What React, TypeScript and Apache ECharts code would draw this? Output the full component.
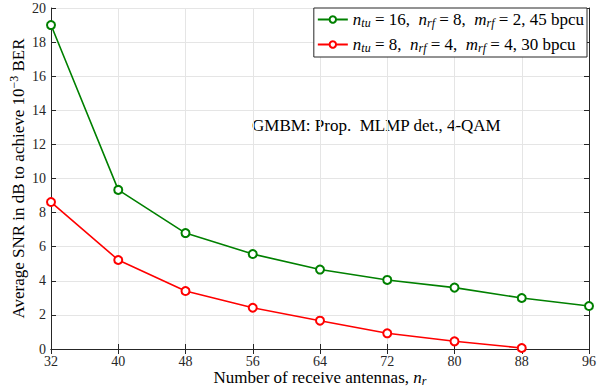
import React, { useEffect, useRef } from "react";
import * as echarts from "echarts";

const xCategories = [32, 40, 48, 56, 64, 72, 80, 88, 96];
const green16 = [19.0, 9.33, 6.8, 5.57, 4.66, 4.05, 3.6, 2.99, 2.52];
const red8 = [8.62, 5.22, 3.4, 2.42, 1.66, 0.92, 0.45, 0.06];
const seriesNames = ["s16", "s8"];
const FONT = "serif";
const AX = "#262626";

export default function App() {
  const ref = useRef<HTMLDivElement>(null);
  useEffect(() => {
    const chart = echarts.init(ref.current!, null, { renderer: "svg" });
    const sub = { fontSize: 12, fontStyle: "italic", fontFamily: FONT, color: "#000", padding: [7, 0, 0, 0] };
    const it = { fontSize: 17, fontStyle: "italic", fontFamily: FONT, color: "#000" };
    const nm = { fontSize: 17, fontFamily: FONT, color: "#000" };
    const legendText: Record<string, string> = {
      s16: "{i|n}{s|tu}{t| = 16,  }{i|n}{s|rf}{t| = 8,  }{i|m}{s|rf}{t| = 2, 45 bpcu}",
      s8: "{i|n}{s|tu}{t| = 8,  }{i|n}{s|rf}{t| = 4,  }{i|m}{s|rf}{t| = 4, 30 bpcu}",
    };
    const mk = (name: string, data: number[], color: string) => ({
      name,
      type: "line",
      data: data.map((v, i) => [xCategories[i], v]),
      symbol: "emptyCircle",
      symbolSize: 8,
      lineStyle: { color, width: 1.6 },
      itemStyle: { color, borderColor: color, borderWidth: 1.6 },
      z: 5,
    });
    chart.setOption({
      animation: false,
      textStyle: { fontFamily: FONT },
      grid: { left: 51, right: 9, top: 8, bottom: 40, outerBoundsMode: "none", containLabel: false },
      xAxis: [
        {
          type: "value",
          min: 32,
          max: 96,
          interval: 8,
          axisLine: { lineStyle: { color: AX, width: 1 } },
          axisTick: { inside: true, length: 5, lineStyle: { color: AX } },
          axisLabel: { color: AX, fontFamily: FONT, fontSize: 14, margin: 5 },
          splitLine: { show: true, lineStyle: { color: "#e5e5e5", width: 1 } },
          name: "{t|Number of receive antennas, }{i|n}{s|r}",
          nameLocation: "middle",
          nameGap: 19,
          nameMoveOverlap: false,
          nameTextStyle: { rich: { t: nm, i: it, s: sub } },
        },
        {
          type: "value",
          position: "top",
          min: 32,
          max: 96,
          interval: 8,
          axisLine: { show: true, lineStyle: { color: AX, width: 1 } },
          axisTick: { show: true, inside: true, length: 5, lineStyle: { color: AX } },
          axisLabel: { show: false },
          splitLine: { show: false },
        },
      ],
      yAxis: [
        {
          type: "value",
          min: 0,
          max: 20,
          interval: 2,
          axisLine: { show: true, lineStyle: { color: AX, width: 1 } },
          axisTick: { show: true, inside: true, length: 5, lineStyle: { color: AX } },
          axisLabel: { color: AX, fontFamily: FONT, fontSize: 14, margin: 5 },
          splitLine: { show: true, lineStyle: { color: "#e5e5e5", width: 1 } },
          name: "{t|Average SNR in dB to achieve 10}{u|−3}{t| BER}",
          nameLocation: "middle",
          nameRotate: 90,
          nameGap: 23,
          nameMoveOverlap: false,
          nameTextStyle: {
            rich: {
              t: nm,
              u: { fontSize: 12, fontFamily: FONT, color: "#000", padding: [0, 0, 8, 0] },
            },
          },
        },
        {
          type: "value",
          position: "right",
          min: 0,
          max: 20,
          interval: 2,
          axisLine: { show: true, lineStyle: { color: AX, width: 1 } },
          axisTick: { show: true, inside: true, length: 5, lineStyle: { color: AX } },
          axisLabel: { show: false },
          splitLine: { show: false },
        },
      ],
      legend: {
        orient: "vertical",
        right: 11,
        top: 8,
        backgroundColor: "#fff",
        borderColor: AX,
        borderWidth: 1,
        borderRadius: 0,
        padding: [3, 3, 3, 3],
        itemGap: 7,
        itemWidth: 30,
        itemHeight: 8,
        data: seriesNames,
        formatter: (n: string) => legendText[n],
        textStyle: { rich: { t: nm, i: it, s: sub } },
      },
      graphic: [
        {
          type: "text",
          left: 252,
          top: 117,
          style: { text: "GMBM: Prop.  MLMP det., 4-QAM", font: `17px serif`, fill: "#000" },
        },
      ],
      series: [mk(seriesNames[0], green16, "#008000"), mk(seriesNames[1], red8, "#ff0000")],
    });
    return () => chart.dispose();
  }, []);
  return <div ref={ref} style={{ width: 598, height: 389, position: "absolute", left: 0, top: 0, background: "#fff" }} />;
}
